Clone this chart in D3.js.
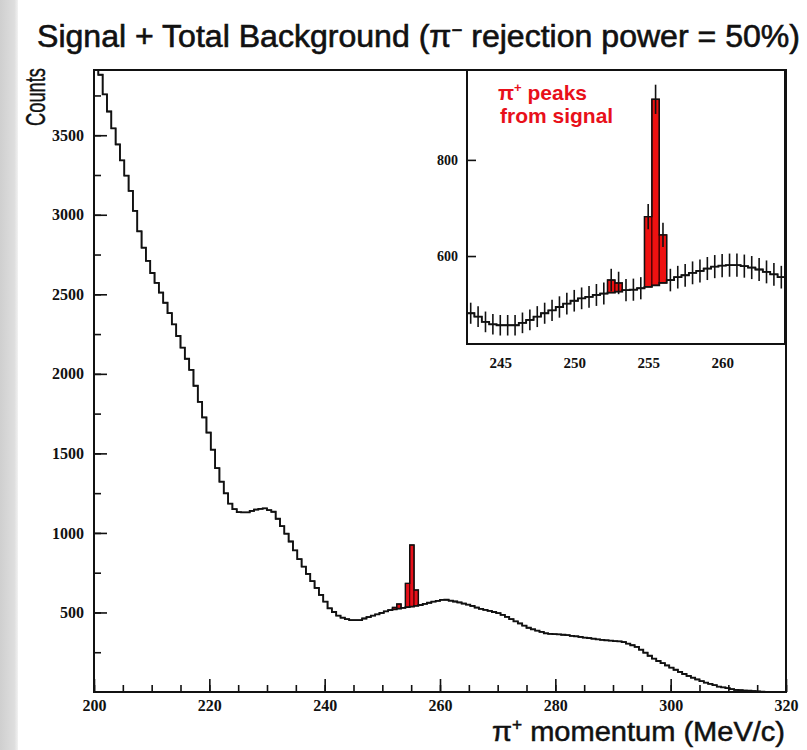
<!DOCTYPE html>
<html>
<head>
<meta charset="utf-8">
<script src="https://cdn.jsdelivr.net/npm/d3@7"></script>
<style>
  body { margin: 0; background: #fff; }
  svg { display: block; }
</style>
</head>
<body>
<svg id="chart" width="807" height="750"></svg>
<script>
// ---- Main histogram: pi+ momentum, 0.75 MeV/c bins starting at 200 MeV/c ----
const mainStart = 200;
const mainBinWidth = 0.75;
const mainBackground = [
  4000, 3880, 3757, 3649, 3543, 3442, 3342, 3246, 3150, 3025,
  2896, 2793, 2710, 2634, 2572, 2511, 2447, 2382, 2311, 2238,
  2165, 2095, 2025, 1925, 1824, 1726, 1631, 1523, 1407, 1322,
  1249, 1184, 1149, 1131, 1129, 1129, 1138, 1147, 1151, 1154,
  1143, 1133, 1089, 1043, 995, 946, 890, 835, 788, 742,
  697, 654, 610, 568, 526, 503, 480, 467, 458, 452,
  452, 452, 462, 471, 480, 488, 497, 507, 515, 520,
  524, 529, 533, 537, 542, 547, 554, 561, 568, 573,
  579, 580, 574, 569, 563, 556, 549, 541, 531, 523,
  516, 510, 503, 496, 485, 472, 458, 444, 431, 417,
  404, 394, 386, 378, 369, 366, 364, 362, 360, 357,
  353, 350, 346, 342, 339, 335, 331, 328, 325, 323,
  320, 318, 314, 304, 294, 284, 266, 247, 228, 210,
  195, 181, 167, 153, 140, 126, 113, 101, 90, 79,
  68, 59, 51, 43, 34, 29, 24, 18, 13, 11,
  9, 8, 6, 4, 2, 0, 0, 0, 0, 0
];
// signal counts on top of the background (bin index -> counts)
const mainSignalBins = [69, 70, 72, 73, 74];
const mainSignalCounts = [12, 29, 150, 387, 99];

// ---- Inset: zoom on the signal region, 0.5 MeV/c bins ----
const insetStart = 242.75;
const insetBinWidth = 0.5;
const insetBackground = [
  481, 474, 463, 458, 456, 456, 456, 461, 467, 474,
  481, 487, 494, 501, 507, 512, 515, 519, 522, 524,
  526, 529, 530, 533, 536, 539, 544, 550, 556, 560,
  565, 569, 574, 578, 580, 581, 581, 579, 576, 572,
  567, 562, 556
];
const insetSignalBins = [19, 20, 24, 25, 26];
const insetSignalCounts = [26, 18, 146, 387, 100];

// ---- Tick values ----
const xMajorTicks = [200, 220, 240, 260, 280, 300, 320];
const yMajorTicks = [500, 1000, 1500, 2000, 2500, 3000, 3500];
const insetXTicks = [245, 250, 255, 260];
const insetYTicks = [600, 800];

const tickFont = "'Liberation Serif', 'Times New Roman', serif";
const textFont = "'Liberation Sans', Arial, sans-serif";

const svg = d3.select("#chart");
const defs = svg.append("defs");

// page background with the grey strip on the left
svg.append("rect").attr("width", 807).attr("height", 750).attr("fill", "#ffffff");
const grad = defs.append("linearGradient").attr("id", "stripGrad")
  .attr("x1", 0).attr("x2", 1).attr("y1", 0).attr("y2", 0);
grad.append("stop").attr("offset", "0%").attr("stop-color", "#cfcfcf");
grad.append("stop").attr("offset", "80%").attr("stop-color", "#dedede");
grad.append("stop").attr("offset", "100%").attr("stop-color", "#f2f2f2");
svg.append("rect").attr("x", 0).attr("y", 0).attr("width", 18).attr("height", 750)
  .attr("fill", "url(#stripGrad)");

// helpers
function withSignal(bg, bins, counts) {
  const total = bg.slice();
  bins.forEach((b, k) => { total[b] += counts[k]; });
  return total;
}
function stepPoints(values, start, width) {
  const pts = values.map((v, i) => [start + i * width, v]);
  pts.push([start + values.length * width, values[values.length - 1]]);
  return pts;
}

// ================= Main plot =================
const x = d3.scaleLinear().domain([200, 320]).range([94, 786]);
const y = d3.scaleLinear().domain([0, 3910]).range([692, 70]);

defs.append("clipPath").attr("id", "mainClip").append("rect")
  .attr("x", x.range()[0]).attr("y", y.range()[1])
  .attr("width", x.range()[1] - x.range()[0]).attr("height", y.range()[0] - y.range()[1]);

const mainTotal = withSignal(mainBackground, mainSignalBins, mainSignalCounts);
const mainLine = d3.line().x(d => x(d[0])).y(d => y(d[1])).curve(d3.curveStepAfter);

const gMain = svg.append("g").attr("clip-path", "url(#mainClip)");
gMain.selectAll("rect.sig").data(mainSignalBins).join("rect")
  .attr("class", "sig")
  .attr("x", b => x(mainStart + b * mainBinWidth))
  .attr("width", b => x(mainStart + (b + 1) * mainBinWidth) - x(mainStart + b * mainBinWidth))
  .attr("y", b => y(mainTotal[b]))
  .attr("height", b => y(mainBackground[b]) - y(mainTotal[b]))
  .attr("fill", "#e8101a").attr("stroke", "#3a0000").attr("stroke-width", 1);
gMain.append("path").datum(stepPoints(mainTotal, mainStart, mainBinWidth))
  .attr("d", mainLine).attr("fill", "none").attr("stroke", "#111").attr("stroke-width", 1.4);
gMain.append("path").datum(stepPoints(mainBackground, mainStart, mainBinWidth))
  .attr("d", mainLine).attr("fill", "none").attr("stroke", "#111").attr("stroke-width", 1.8);

// axes
function styleTicks(g, fontSize) {
  g.select(".domain").remove();
  g.selectAll(".tick line").attr("stroke", "#111").attr("stroke-width", 1.6);
  g.selectAll(".tick text").attr("font-family", tickFont).attr("font-weight", "bold")
    .attr("font-size", fontSize).attr("fill", "#111");
}
const gxMinor = svg.append("g").attr("transform", `translate(0,${y(0)})`)
  .call(d3.axisBottom(x).tickValues(d3.range(200, 321, 5)).tickSize(-7).tickSizeOuter(0).tickFormat(""));
styleTicks(gxMinor, 15);
const gx = svg.append("g").attr("transform", `translate(0,${y(0)})`)
  .call(d3.axisBottom(x).tickValues(xMajorTicks).tickSize(-13).tickSizeOuter(0).tickPadding(8).tickFormat(d3.format("d")));
styleTicks(gx, 16);

const gyMinor = svg.append("g").attr("transform", `translate(${x(200)},0)`)
  .call(d3.axisLeft(y).tickValues(d3.range(250, 3900, 250)).tickSize(-7).tickSizeOuter(0).tickFormat(""));
styleTicks(gyMinor, 15);
const gy = svg.append("g").attr("transform", `translate(${x(200)},0)`)
  .call(d3.axisLeft(y).tickValues(yMajorTicks).tickSize(-13).tickSizeOuter(0).tickPadding(10).tickFormat(d3.format("d")));
styleTicks(gy, 16);

// frame
svg.append("rect")
  .attr("x", x.range()[0]).attr("y", y.range()[1])
  .attr("width", x.range()[1] - x.range()[0]).attr("height", y.range()[0] - y.range()[1])
  .attr("fill", "none").attr("stroke", "#111").attr("stroke-width", 2);

// ================= Inset =================
const xi = d3.scaleLinear().domain([242.75, 264.25]).range([467, 785]);
const yi = d3.scaleLinear().domain([417, 987]).range([344, 70]);

svg.append("rect")
  .attr("x", xi.range()[0]).attr("y", yi.range()[1])
  .attr("width", xi.range()[1] - xi.range()[0]).attr("height", yi.range()[0] - yi.range()[1])
  .attr("fill", "#fff");
defs.append("clipPath").attr("id", "insetClip").append("rect")
  .attr("x", xi.range()[0]).attr("y", yi.range()[1])
  .attr("width", xi.range()[1] - xi.range()[0]).attr("height", yi.range()[0] - yi.range()[1]);

const insetTotal = withSignal(insetBackground, insetSignalBins, insetSignalCounts);
const insetLine = d3.line().x(d => xi(d[0])).y(d => yi(d[1])).curve(d3.curveStepAfter);
const gIn = svg.append("g").attr("clip-path", "url(#insetClip)");

gIn.selectAll("rect.sig").data(insetSignalBins).join("rect")
  .attr("class", "sig")
  .attr("x", b => xi(insetStart + b * insetBinWidth))
  .attr("width", b => xi(insetStart + (b + 1) * insetBinWidth) - xi(insetStart + b * insetBinWidth))
  .attr("y", b => yi(insetTotal[b]))
  .attr("height", b => yi(insetBackground[b]) - yi(insetTotal[b]))
  .attr("fill", "#ee1111").attr("stroke", "#400000").attr("stroke-width", 1.2);

// statistical error bars (sqrt N) at each bin centre
gIn.selectAll("line.err").data(insetTotal).join("line")
  .attr("class", "err")
  .attr("x1", (v, i) => xi(insetStart + (i + 0.5) * insetBinWidth))
  .attr("x2", (v, i) => xi(insetStart + (i + 0.5) * insetBinWidth))
  .attr("y1", v => yi(v + Math.sqrt(v)))
  .attr("y2", v => yi(v - Math.sqrt(v)))
  .attr("stroke", "#111").attr("stroke-width", 1.6);

gIn.append("path").datum(stepPoints(insetTotal, insetStart, insetBinWidth))
  .attr("d", insetLine).attr("fill", "none").attr("stroke", "#111").attr("stroke-width", 1.4);
gIn.append("path").datum(stepPoints(insetBackground, insetStart, insetBinWidth))
  .attr("d", insetLine).attr("fill", "none").attr("stroke", "#111").attr("stroke-width", 1.8);

svg.append("rect")
  .attr("x", xi.range()[0]).attr("y", yi.range()[1])
  .attr("width", xi.range()[1] - xi.range()[0]).attr("height", yi.range()[0] - yi.range()[1])
  .attr("fill", "none").attr("stroke", "#111").attr("stroke-width", 2);

const gxi = svg.append("g").attr("transform", `translate(0,${yi.range()[0]})`)
  .call(d3.axisBottom(xi).tickValues(insetXTicks).tickSize(0).tickPadding(13).tickFormat(d3.format("d")));
styleTicks(gxi, 15);
const gyi = svg.append("g").attr("transform", `translate(${xi.range()[0]},0)`)
  .call(d3.axisLeft(yi).tickValues(insetYTicks).tickSize(-9).tickSizeOuter(0).tickPadding(9).tickFormat(d3.format("d")));
styleTicks(gyi, 14);

// inset annotation
const note = svg.append("text").attr("font-family", textFont).attr("font-weight", "bold")
  .attr("font-size", 21).attr("fill", "#e8101a");
const l1 = note.append("tspan").attr("x", 498).attr("y", 100);
l1.append("tspan").text("π");
l1.append("tspan").attr("font-size", 13).attr("dy", -8).text("+");
l1.append("tspan").attr("dy", 8).text(" peaks");
note.append("tspan").attr("x", 500).attr("y", 123).text("from signal");

// ================= Titles =================
const title = svg.append("text").attr("x", 37).attr("y", 47)
  .attr("font-family", textFont).attr("font-size", 31).attr("fill", "#111")
  .attr("stroke", "#111").attr("stroke-width", 0.6)
  .attr("textLength", 763).attr("lengthAdjust", "spacingAndGlyphs");
title.append("tspan").text("Signal + Total Background (π");
title.append("tspan").attr("font-size", 18).attr("dy", -11).text("−");
title.append("tspan").attr("dy", 11).text(" rejection power = 50%)");

svg.append("text")
  .attr("transform", "translate(45,126) rotate(-90)")
  .attr("font-family", textFont).attr("font-size", 28).attr("fill", "#111")
  .attr("stroke", "#111").attr("stroke-width", 0.4)
  .attr("textLength", 58).attr("lengthAdjust", "spacingAndGlyphs")
  .text("Counts");

const xt = svg.append("text").attr("x", 492).attr("y", 741)
  .attr("font-family", textFont).attr("font-size", 27).attr("fill", "#111")
  .attr("stroke", "#111").attr("stroke-width", 0.5)
  .attr("textLength", 293).attr("lengthAdjust", "spacingAndGlyphs");
xt.append("tspan").text("π");
xt.append("tspan").attr("font-size", 16).attr("dy", -11).text("+");
xt.append("tspan").attr("dy", 11).text(" momentum (MeV/c)");
</script>
</body>
</html>
